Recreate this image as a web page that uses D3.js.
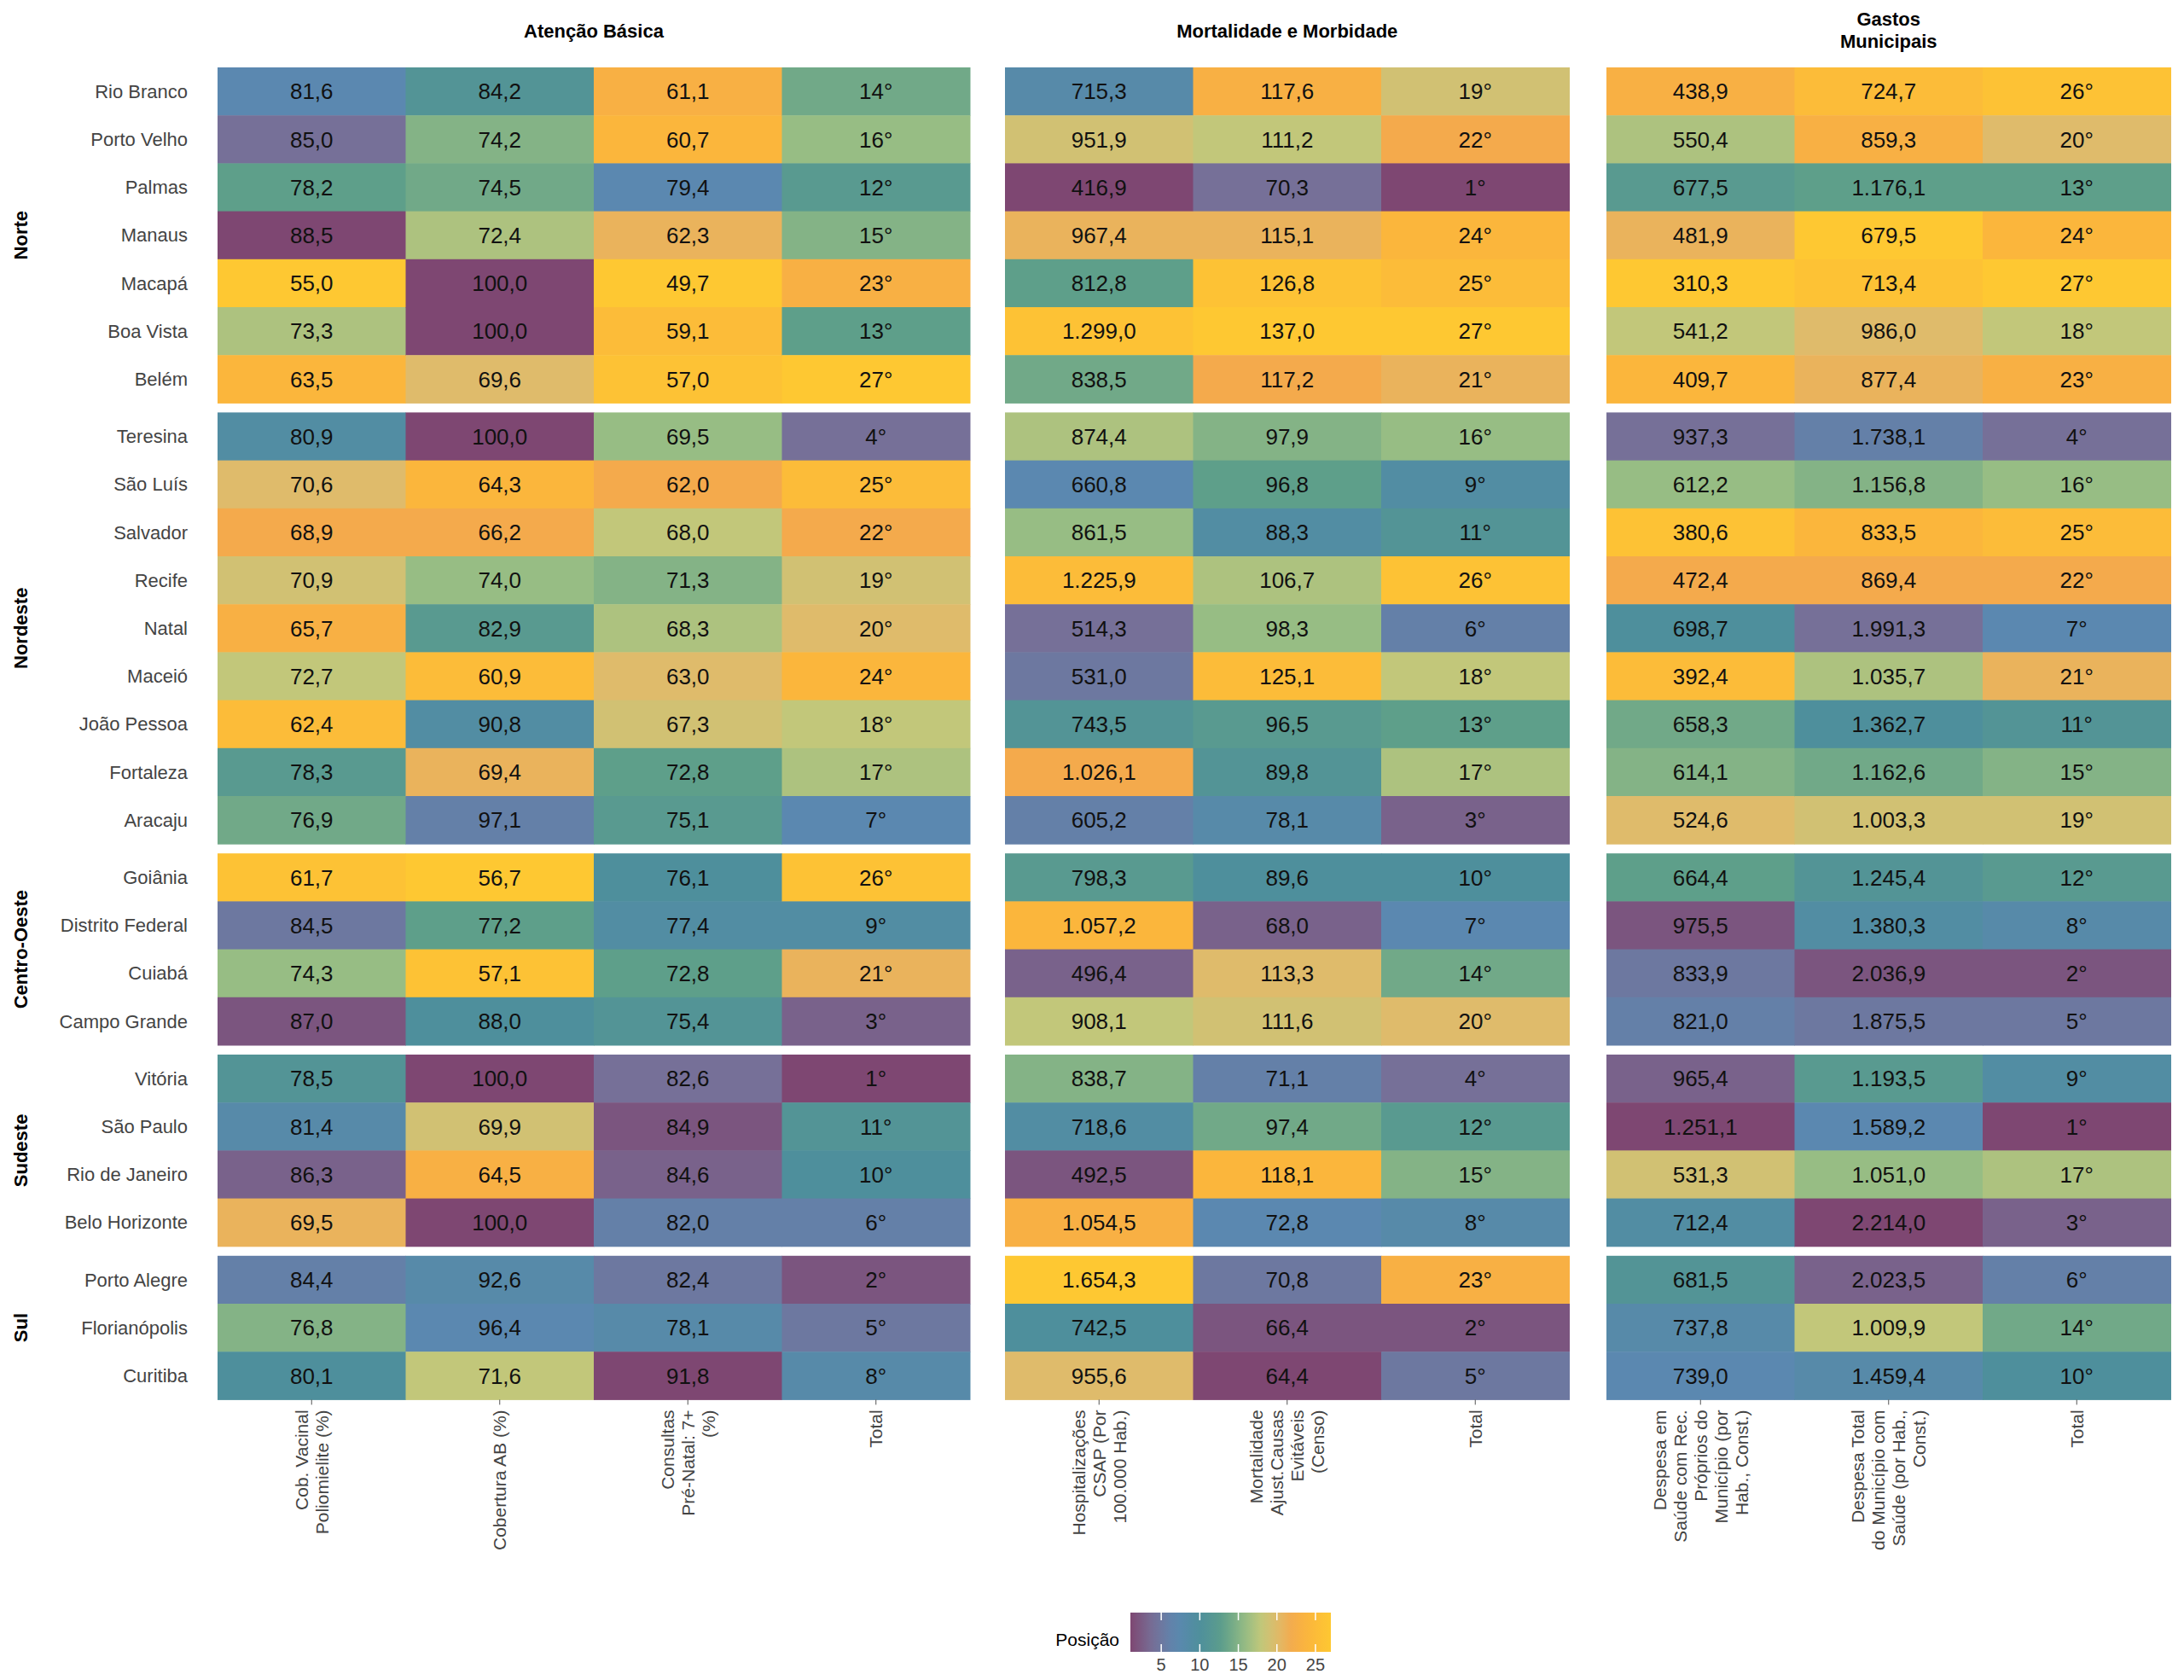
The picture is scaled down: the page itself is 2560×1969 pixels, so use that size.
<!DOCTYPE html>
<html><head><meta charset="utf-8">
<script src="https://cdn.jsdelivr.net/npm/d3@7"></script>
<style>body{margin:0;background:#fff}text{font-family:Arial,"Liberation Sans",sans-serif}</style>
</head><body><svg id="chart" width="2560" height="1969"></svg>
<script>
const regions = ['Norte', 'Nordeste', 'Centro-Oeste', 'Sudeste', 'Sul'];
const regionSizes = [7, 9, 4, 4, 3];
const cities = ['Rio Branco', 'Porto Velho', 'Palmas', 'Manaus', 'Macapá', 'Boa Vista', 'Belém',
  'Teresina', 'São Luís', 'Salvador', 'Recife', 'Natal', 'Maceió', 'João Pessoa', 'Fortaleza', 'Aracaju',
  'Goiânia', 'Distrito Federal', 'Cuiabá', 'Campo Grande',
  'Vitória', 'São Paulo', 'Rio de Janeiro', 'Belo Horizonte',
  'Porto Alegre', 'Florianópolis', 'Curitiba'];

const vacinal = [81.6,85.0,78.2,88.5,55.0,73.3,63.5,80.9,70.6,68.9,70.9,65.7,72.7,62.4,78.3,76.9,61.7,84.5,74.3,87.0,78.5,81.4,86.3,69.5,84.4,76.8,80.1];
const coberturaAB = [84.2,74.2,74.5,72.4,100,100,69.6,100,64.3,66.2,74.0,82.9,60.9,90.8,69.4,97.1,56.7,77.2,57.1,88.0,100,69.9,64.5,100,92.6,96.4,71.6];
const preNatal = [61.1,60.7,79.4,62.3,49.7,59.1,57.0,69.5,62.0,68.0,71.3,68.3,63.0,67.3,72.8,75.1,76.1,77.4,72.8,75.4,82.6,84.9,84.6,82.0,82.4,78.1,91.8];
const totalAB = [14,16,12,15,23,13,27,4,25,22,19,20,24,18,17,7,26,9,21,3,1,11,10,6,2,5,8];
const hospCSAP = [715.3,951.9,416.9,967.4,812.8,1299.0,838.5,874.4,660.8,861.5,1225.9,514.3,531.0,743.5,1026.1,605.2,798.3,1057.2,496.4,908.1,838.7,718.6,492.5,1054.5,1654.3,742.5,955.6];
const mortalidade = [117.6,111.2,70.3,115.1,126.8,137.0,117.2,97.9,96.8,88.3,106.7,98.3,125.1,96.5,89.8,78.1,89.6,68.0,113.3,111.6,71.1,97.4,118.1,72.8,70.8,66.4,64.4];
const totalMM = [19,22,1,24,25,27,21,16,9,11,26,6,18,13,17,3,10,7,14,20,4,12,15,8,23,2,5];
const despRecProprios = [438.9,550.4,677.5,481.9,310.3,541.2,409.7,937.3,612.2,380.6,472.4,698.7,392.4,658.3,614.1,524.6,664.4,975.5,833.9,821.0,965.4,1251.1,531.3,712.4,681.5,737.8,739.0];
const despTotal = [724.7,859.3,1176.1,679.5,713.4,986.0,877.4,1738.1,1156.8,833.5,869.4,1991.3,1035.7,1362.7,1162.6,1003.3,1245.4,1380.3,2036.9,1875.5,1193.5,1589.2,1051.0,2214.0,2023.5,1009.9,1459.4];
const totalG = [26,20,13,24,27,18,23,4,16,25,22,7,21,11,15,19,12,8,2,5,9,1,17,3,6,14,10];

const panels = [
  { title: ['Atenção Básica'], cols: [
    { label: ['Cob. Vacinal', 'Poliomielite (%)'], values: vacinal, better: 'high' },
    { label: ['Cobertura AB (%)'], values: coberturaAB, better: 'high' },
    { label: ['Consultas', 'Pré-Natal: 7+', '(%)'], values: preNatal, better: 'high' },
    { label: ['Total'], values: totalAB, better: 'rank' }] },
  { title: ['Mortalidade e Morbidade'], cols: [
    { label: ['Hospitalizações', 'CSAP (Por', '100.000 Hab.)'], values: hospCSAP, better: 'low' },
    { label: ['Mortalidade', 'Ajust.Causas', 'Evitáveis', '(Censo)'], values: mortalidade, better: 'low' },
    { label: ['Total'], values: totalMM, better: 'rank' }] },
  { title: ['Gastos', 'Municipais'], cols: [
    { label: ['Despesa em', 'Saúde com Rec.', 'Próprios do', 'Município (por', 'Hab., Const.)'], values: despRecProprios, better: 'high' },
    { label: ['Despesa Total', 'do Município com', 'Saúde (por Hab.,', 'Const.)'], values: despTotal, better: 'high' },
    { label: ['Total'], values: totalG, better: 'rank' }] }
];

const rankOf = (col, v) => {
  if (col.better === 'rank') return v;
  return 1 + col.values.filter(o => col.better === 'high' ? o > v : o < v).length;
};
const fmtNum = v => {
  const s = v.toFixed(1).split('.');
  return s[0].replace(/\B(?=(\d{3})+(?!\d))/g, '.') + ',' + s[1];
};

const color = d3.scaleLinear()
  .domain([1, 4, 7, 10, 13, 16, 18, 20, 22, 24, 27])
  .range(['#7e4772', '#767098', '#5b88b0', '#4e8f9c', '#5e9f8a', '#97bd84', '#c2c77a', '#dfbb6b', '#f4aa4c', '#fbb63c', '#fec832']);

const svg = d3.select('#chart');
const cellW = 220.5, panelX = [255, 1178, 1883];
const topY = 79, rowH = 56.2, gap = 11;

// row positions
const rowY = [];
let y0 = topY;
regionSizes.forEach((n, g) => {
  const start = y0;
  for (let i = 0; i < n; i++) { rowY.push(y0); y0 += rowH; }
  svg.append('text').attr('transform', `translate(32,${(start + y0) / 2}) rotate(-90)`)
    .attr('text-anchor', 'middle').attr('font-size', 22).attr('font-weight', 'bold').text(regions[g]);
  y0 += gap;
});
const bottom = y0 - gap;

cities.forEach((c, i) => {
  svg.append('text').attr('x', 220).attr('y', rowY[i] + rowH / 2).attr('dy', '0.35em')
    .attr('text-anchor', 'end').attr('font-size', 22).attr('fill', '#444').text(c);
});

panels.forEach((p, pi) => {
  const x = d3.scaleBand().domain(d3.range(p.cols.length)).range([panelX[pi], panelX[pi] + cellW * p.cols.length]);
  const cx = panelX[pi] + cellW * p.cols.length / 2;
  p.title.forEach((t, li) => {
    svg.append('text').attr('x', cx).attr('y', (p.title.length > 1 ? 30 : 44) + li * 26)
      .attr('text-anchor', 'middle').attr('font-size', 22).attr('font-weight', 'bold').text(t);
  });
  p.cols.forEach((col, ci) => {
    const g = svg.append('g');
    g.selectAll('rect').data(col.values).join('rect')
      .attr('x', x(ci)).attr('y', (d, i) => rowY[i]).attr('width', x.bandwidth() + 0.5).attr('height', rowH + 0.5)
      .attr('fill', d => color(rankOf(col, d)));
    g.selectAll('text').data(col.values).join('text')
      .attr('x', x(ci) + x.bandwidth() / 2).attr('y', (d, i) => rowY[i] + rowH / 2).attr('dy', '0.36em')
      .attr('text-anchor', 'middle').attr('font-size', 26).attr('fill', '#111')
      .text(d => col.better === 'rank' ? d + '°' : fmtNum(d));
    const lx = x(ci) + x.bandwidth() / 2, n = col.label.length;
    svg.append('line').attr('x1', lx).attr('x2', lx).attr('y1', bottom).attr('y2', bottom + 6).attr('stroke', '#555');
    col.label.forEach((l, li) => {
      svg.append('text').attr('transform', `translate(${lx + (li - (n - 1) / 2) * 24},${bottom + 12}) rotate(-90)`)
        .attr('text-anchor', 'end').attr('dy', '0.35em').attr('font-size', 21).attr('fill', '#444').text(l);
    });
  });
});

// legend
const lx0 = 1325, lx1 = 1560, ly = 1890, lh = 46;
const grad = svg.append('defs').append('linearGradient').attr('id', 'lg');
d3.range(0, 1.001, 0.05).forEach(t => grad.append('stop').attr('offset', t).attr('stop-color', color(1 + 26 * t)));
svg.append('rect').attr('x', lx0).attr('y', ly).attr('width', lx1 - lx0).attr('height', lh).attr('fill', 'url(#lg)');
const lScale = d3.scaleLinear().domain([1, 27]).range([lx0, lx1]);
[5, 10, 15, 20, 25].forEach(t => {
  svg.append('line').attr('x1', lScale(t)).attr('x2', lScale(t)).attr('y1', ly).attr('y2', ly + 9).attr('stroke', '#fff').attr('stroke-width', 1.5);
  svg.append('line').attr('x1', lScale(t)).attr('x2', lScale(t)).attr('y1', ly + lh - 9).attr('y2', ly + lh).attr('stroke', '#fff').attr('stroke-width', 1.5);
  svg.append('text').attr('x', lScale(t)).attr('y', ly + lh + 22).attr('text-anchor', 'middle').attr('font-size', 20).attr('fill', '#444').text(t);
});
svg.append('text').attr('x', 1312).attr('y', 1929).attr('text-anchor', 'end').attr('font-size', 21).text('Posição');
</script></body></html>
